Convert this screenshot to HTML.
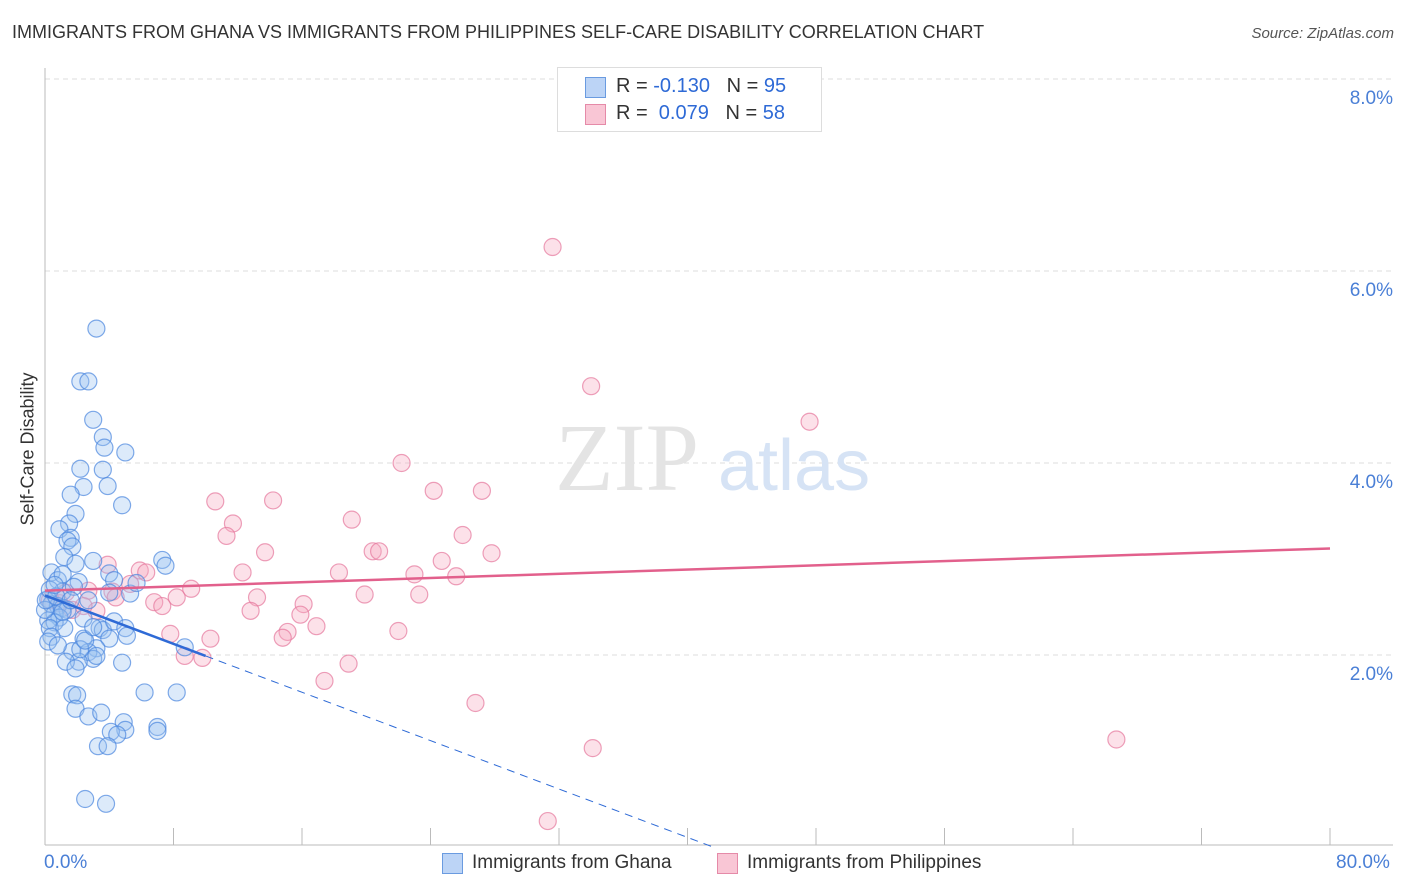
<!DOCTYPE html>
<html><head><meta charset="utf-8">
<style>
body{margin:0;background:#fff;font-family:"Liberation Sans",sans-serif;}
#wrap{position:relative;width:1406px;height:892px;overflow:hidden;}
.t{position:absolute;white-space:nowrap;}
</style></head>
<body>
<div id="wrap">
<div class="t" style="left:12px;top:22px;font-size:18px;color:#333;">IMMIGRANTS FROM GHANA VS IMMIGRANTS FROM PHILIPPINES SELF-CARE DISABILITY CORRELATION CHART</div>
<div class="t" style="right:12px;top:25px;font-size:15px;color:#555;font-style:italic;">Source: ZipAtlas.com</div>
<svg id="svg" width="1406" height="892" style="position:absolute;left:0;top:0"></svg>
</div>
<script>
const yTicks=[2,4,6,8];
const yTickLabels=["2.0%","4.0%","6.0%","8.0%"];
const xTickCount=10;
const ghanaX=[3.2,2.2,2.7,3.0,3.6,3.7,5.0,2.2,3.6,2.4,1.6,3.9,4.8,1.9,1.5,0.9,1.6,1.4,1.7,1.2,3.0,1.9,0.4,7.3,7.5,0.8,2.1,4.0,4.3,1.1,1.8,4.0,0.2,0.4,0.8,1.1,1.4,0.6,0.9,0.2,0.6,0.3,1.2,2.4,3.4,3.6,0.4,0.2,4.0,2.4,3.2,2.7,1.7,3.0,3.2,2.1,1.3,1.9,8.7,4.8,1.7,2.0,1.9,2.7,3.5,6.2,8.2,4.9,5.0,4.1,4.5,7.0,7.0,3.3,3.9,2.5,3.8,0.0,0.05,0.3,0.7,1.1,1.6,0.8,2.7,5.3,5.7,4.3,5.0,2.2,5.1,1.1,2.5,3.0,0.6];
const ghanaY=[5.40,4.85,4.85,4.45,4.27,4.16,4.11,3.94,3.93,3.75,3.67,3.76,3.56,3.47,3.37,3.31,3.22,3.19,3.13,3.02,2.98,2.95,2.86,2.99,2.93,2.78,2.76,2.85,2.78,2.66,2.71,2.65,2.58,2.53,2.51,2.49,2.47,2.43,2.39,2.36,2.34,2.28,2.28,2.38,2.28,2.26,2.19,2.14,2.17,2.17,2.07,2.03,2.04,1.96,1.99,1.93,1.93,1.86,2.08,1.92,1.59,1.58,1.44,1.36,1.40,1.61,1.61,1.30,1.22,1.20,1.17,1.25,1.21,1.05,1.05,0.50,0.45,2.47,2.57,2.68,2.61,2.45,2.57,2.10,2.57,2.64,2.75,2.35,2.28,2.06,2.20,2.84,2.15,2.29,2.73];
const philX=[31.6,34.0,47.6,22.2,24.2,27.2,10.6,14.2,19.1,11.7,11.3,26.0,13.7,20.4,20.8,27.8,24.7,3.9,5.9,6.3,12.3,18.3,23.0,25.6,5.3,9.1,4.2,2.7,4.4,13.2,19.9,23.3,8.2,6.8,7.3,3.2,16.1,15.9,12.8,16.9,7.8,15.1,14.8,10.3,22.0,8.7,9.8,18.9,17.4,26.8,34.1,66.7,31.3,0.9,1.7,2.4,0.3,1.3];
const philY=[6.25,4.80,4.43,4.00,3.71,3.71,3.60,3.61,3.41,3.37,3.24,3.25,3.07,3.08,3.08,3.06,2.98,2.94,2.88,2.86,2.86,2.86,2.84,2.82,2.74,2.69,2.66,2.67,2.60,2.60,2.63,2.63,2.60,2.55,2.51,2.46,2.53,2.42,2.46,2.30,2.22,2.24,2.18,2.17,2.25,1.99,1.97,1.91,1.73,1.50,1.03,1.12,0.27,2.54,2.47,2.51,2.57,2.65];
const ghanaTrend=[2.62,-0.063];
const philTrend=[2.67,0.0055];

const NS="http://www.w3.org/2000/svg";
const svg=document.getElementById('svg');
const X0=45,X1=1330,Y0=847,PY=96;
const sx=v=>X0+(X1-X0)*v/80, sy=v=>Y0-PY*v;
function mk(tag,attrs,parent){const e=document.createElementNS(NS,tag);for(const k in attrs)e.setAttribute(k,attrs[k]);(parent||svg).appendChild(e);return e;}
// gridlines
yTicks.forEach((t,i)=>{
 const g=mk('line',{x1:X0,x2:1393,y1:sy(t),y2:sy(t),stroke:'#ddd','stroke-dasharray':'5,4'});
 
 
 const tx=mk('text',{x:1393,y:sy(t)+25,'text-anchor':'end','font-size':19,fill:'#4a7fd6'});
 tx.textContent=yTickLabels[i];
 
 
});
mk('line',{x1:X0,x2:1393,y1:79,y2:79,stroke:'#ddd','stroke-dasharray':'5,4'});
// axes
const ya=mk('line',{x1:X0,x2:X0,y1:68,y2:845,stroke:'#bbb'});


const xa=mk('line',{x1:X0,x2:1393,y1:845,y2:845,stroke:'#bbb'});


for(let i=0;i<=xTickCount;i++){
 const v=80*i/xTickCount;
 const tk=mk('line',{x1:sx(v),x2:sx(v),y1:828,y2:845,stroke:'#bbb'});
 
 
}
// watermark
const wm=mk('text',{x:555,y:490,'font-size':96,'font-family':'Liberation Serif, serif',fill:'#e4e4e4'});
wm.textContent='ZIP';


const wm2=mk('text',{x:718,y:490,'font-size':72,fill:'#d6e3f5'});
wm2.textContent='atlas';


// points
function pts(xs,ys,fill,stroke,name){
 xs.forEach((x,i)=>{
  const c=mk('circle',{cx:sx(x),cy:sy(ys[i]),r:8.5,fill:fill,'fill-opacity':0.35,stroke:stroke,'stroke-opacity':0.7,'stroke-width':1.2});
  
  
 });
}
pts(philX,philY,'#f7a8c0','#e5789c','philippines-point');
pts(ghanaX,ghanaY,'#9cc2f2','#4a86de','ghana-point');
// trends
const tb=mk('line',{x1:sx(0),y1:sy(ghanaTrend[0]),x2:sx(10),y2:sy(ghanaTrend[0]+ghanaTrend[1]*10),stroke:'#2e6ad6','stroke-width':2.5});


const xz=-ghanaTrend[0]/ghanaTrend[1];
const td=mk('line',{x1:sx(10),y1:sy(ghanaTrend[0]+ghanaTrend[1]*10),x2:sx(xz),y2:sy(0),stroke:'#2e6ad6','stroke-width':1,'stroke-dasharray':'8,6'});


const tp=mk('line',{x1:sx(0),y1:sy(philTrend[0]),x2:sx(80),y2:sy(philTrend[0]+philTrend[1]*80),stroke:'#e2608c','stroke-width':2.5});


</script>
<div class="t" style="left:44px;top:852px;font-size:19px;color:#4a7fd6;">0.0%</div>
<div class="t" style="left:1336px;top:852px;font-size:19px;color:#4a7fd6;">80.0%</div>
<div class="t" style="left:-42px;top:445px;font-size:18px;color:#333;transform:rotate(-90deg);width:140px;text-align:center;">Self-Care Disability</div>
<div style="position:absolute;left:557px;top:67px;width:263px;height:63px;border:1px solid #ddd;background:#fff;font-size:20px;">
 <div style="position:absolute;left:27px;top:9px;width:19px;height:19px;background:#bcd4f6;border:1px solid #6a9be0;"></div>
 <div class="t" style="left:58px;top:7px;color:#333;">R = <span style="color:#2e6ad6">-0.130</span>&nbsp;&nbsp;&nbsp;N = <span style="color:#2e6ad6">95</span></div>
 <div style="position:absolute;left:27px;top:36px;width:19px;height:19px;background:#f9c6d5;border:1px solid #e58aa8;"></div>
 <div class="t" style="left:58px;top:34px;color:#333;">R = &nbsp;<span style="color:#2e6ad6">0.079</span>&nbsp;&nbsp;&nbsp;N = <span style="color:#2e6ad6">58</span></div>
</div>
<div style="position:absolute;left:440px;top:852px;font-size:19px;color:#333;">
 <div style="position:absolute;left:0;top:0;width:250px;">
  <div style="position:absolute;left:2px;top:1px;width:19px;height:19px;background:#bcd4f6;border:1px solid #6a9be0;"></div>
  <div class="t" style="left:32px;top:0;">Immigrants from Ghana</div></div>
 <div style="position:absolute;left:275px;top:0;width:300px;">
  <div style="position:absolute;left:2px;top:1px;width:19px;height:19px;background:#f9c6d5;border:1px solid #e58aa8;"></div>
  <div class="t" style="left:32px;top:0;">Immigrants from Philippines</div></div>
</div>
</body></html>
